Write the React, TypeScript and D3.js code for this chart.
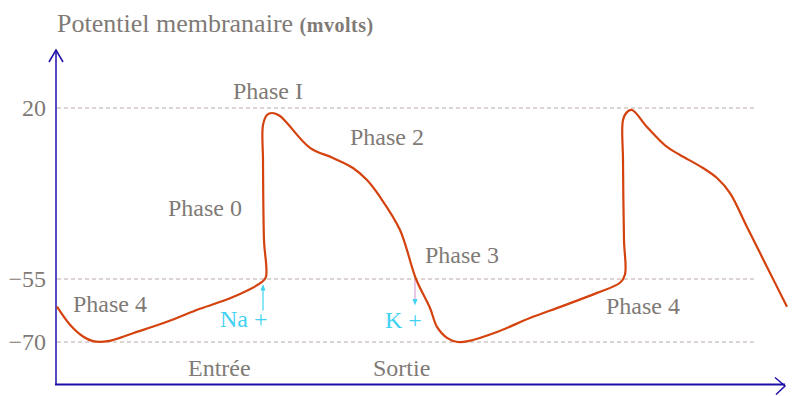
import React from "react";
import * as d3 from "d3";

const timeMs = [0, 13, 26, 36, 51, 76, 110, 143, 176, 205, 209, 207, 206, 206, 210, 215, 223, 230, 253, 276, 296, 310, 323, 343, 359, 373, 380, 390, 401, 411, 440, 473, 506, 540, 563, 568, 567, 566, 566, 570, 575, 590, 610, 623, 646, 660, 673, 690, 710, 730];
const potential = [-61.6, -65.9, -68.7, -69.8, -69.8, -67.9, -65.2, -62.1, -59.3, -55.7, -54.0, -37.9, -2.8, 12.5, 16.9, 17.8, 16.5, 13.4, 2.5, -1.9, -6.3, -11.6, -19.0, -33.5, -55.0, -61.9, -66.4, -69.0, -70.0, -69.8, -67.6, -64.3, -61.4, -58.3, -55.9, -53.0, -37.9, -2.8, 14.7, 18.2, 19.1, 11.7, 2.9, -0.6, -6.3, -10.7, -17.3, -32.2, -49.7, -61.6];

const tickValues = [20, -55, -70];
const tickLabels = ["20", "\u221255", "\u221270"];

const phaseLabels = ["Phase I", "Phase 2", "Phase 0", "Phase 3", "Phase 4", "Phase 4", "Entrée", "Sortie"];
const phaseT = [176, 293, 111, 368, 16, 549, 131, 316];
const phaseV = [24, 3.8, -27.4, -48, -62.9, -63.3, -77.9, -77.9];

const ionLabels = ["Na +", "K +"];
const ionT = [163, 328];
const ionV = [-66.4, -66.7];

export default function App() {
  const x = d3.scaleLinear().domain([0, 730]).range([57, 787]);
  const y = d3.scaleLinear().domain([-80, -70, -55, 20, 45]).range([384.5, 342, 279, 108, 51]);

  const pts: [number, number][] = timeMs.map((t, i) => [t, potential[i]]);
  const line = d3
    .line<[number, number]>()
    .x((d) => x(d[0]))
    .y((d) => y(d[1]))
    .curve(d3.curveCatmullRom.alpha(0.5));

  const font = "'Liberation Serif', Tinos, serif";
  const grey = "#7f7a76";
  const axisColor = "#1c0fa8";
  const cyan = "#3fd2f2";
  const x0 = x(0);
  const xEnd = x(730);
  const yTop = y(45);
  const yBot = y(-80);

  return (
    <svg width={797} height={396} style={{ position: "absolute", left: 0, top: 0, background: "#fff", fontFamily: font }}>
      <text x={57} y={32} fontSize={26} fill={grey} style={{ fontFamily: font }}>
        Potentiel membranaire{" "}
        <tspan fontWeight="bold" fontSize={20} letterSpacing={0.5}>(mvolts)</tspan>
      </text>

      {tickValues.map((v, i) => (
        <g key={i}>
          <line x1={x0} x2={x(700)} y1={y(v)} y2={y(v)} stroke="#b9aaa2" strokeWidth={1} strokeDasharray="4,3" />
          <text x={46} y={y(v)} dy="0.33em" textAnchor="end" fontSize={24} fill={grey} style={{ fontFamily: font }}>
            {tickLabels[i]}
          </text>
        </g>
      ))}

      <line x1={x0 - 1} x2={x0 - 1} y1={yBot} y2={yTop} stroke={axisColor} strokeWidth={1.5} />
      <polyline points={`${x0 - 8},${yTop + 11} ${x0 - 1},${yTop - 1} ${x0 + 6},${yTop + 11}`} fill="none" stroke={axisColor} strokeWidth={1.5} />
      <line x1={x0 - 2} x2={xEnd - 2} y1={yBot} y2={yBot} stroke={axisColor} strokeWidth={2} />
      <polyline points={`${xEnd - 12},${yBot - 7} ${xEnd - 2},${yBot + 1.5} ${xEnd - 11},${yBot + 10}`} fill="none" stroke={axisColor} strokeWidth={1.5} />

      <line x1={x(206)} x2={x(206)} y1={y(-62.5)} y2={y(-56.5)} stroke={cyan} strokeWidth={1.2} />
      <polygon points={`${x(206) - 2.5},${y(-57) + 3} ${x(206)},${y(-56.3)} ${x(206) + 2.5},${y(-57) + 3}`} fill={cyan} />
      <line x1={x(358)} x2={x(358)} y1={y(-55)} y2={y(-60.5)} stroke="#d9a3d6" strokeWidth={1.2} />
      <polygon points={`${x(358) - 2.5},${y(-60.5) - 3} ${x(358)},${y(-61.3)} ${x(358) + 2.5},${y(-60.5) - 3}`} fill={cyan} />

      <path d={line(pts) || ""} fill="none" stroke="#d4420e" strokeWidth={2.2} strokeLinejoin="round" />

      {phaseLabels.map((s, i) => (
        <text key={i} x={x(phaseT[i])} y={y(phaseV[i])} fontSize={24} fill={grey} style={{ fontFamily: font }}>
          {s}
        </text>
      ))}
      {ionLabels.map((s, i) => (
        <text key={i} x={x(ionT[i])} y={y(ionV[i])} fontSize={24} fill={cyan} style={{ fontFamily: font }}>
          {s}
        </text>
      ))}
    </svg>
  );
}
